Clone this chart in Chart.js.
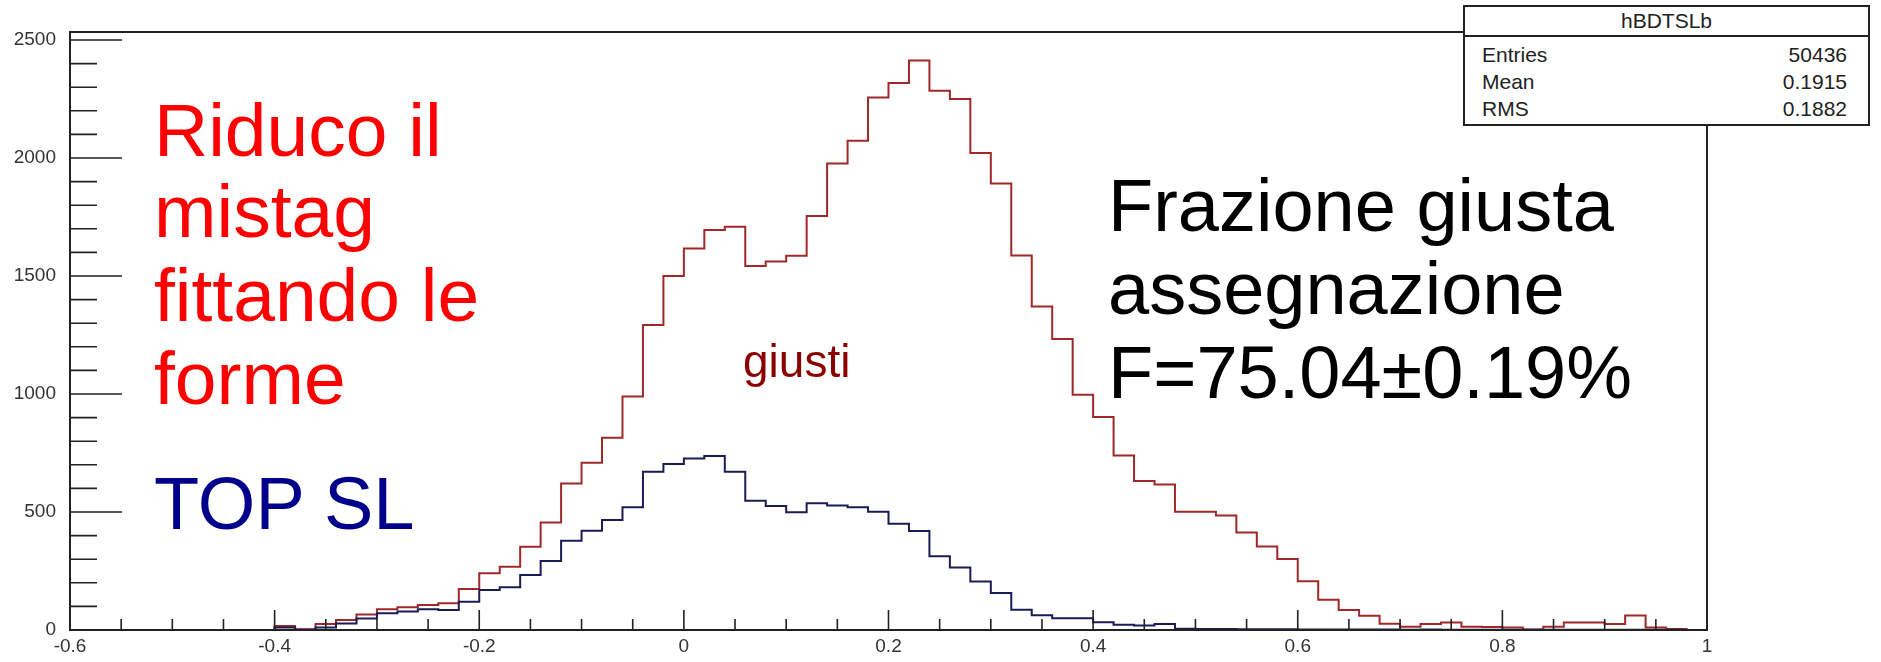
<!DOCTYPE html>
<html>
<head>
<meta charset="utf-8">
<script src="https://cdn.jsdelivr.net/npm/chart.js@4.4.1/dist/chart.umd.min.js"></script>
<style>
    html, body { margin: 0; padding: 0; background: #fff; }
    #wrap { position: relative; width: 1881px; height: 662px; overflow: hidden; font-family: "Liberation Sans", Arial, sans-serif; }
    #wrap canvas { position: absolute; left: 0; top: 0; }
    .note { position: absolute; white-space: nowrap; line-height: 1; }
    .red { color: #ff0000; font-size: 75px; left: 154px; }
    .blk { color: #000; font-size: 74px; left: 1108px; }
    #stats { position: absolute; left: 1463px; top: 5px; width: 403px; height: 117px; border: 2px solid #222; background: #fff; font-size: 21px; color: #222; }
    #stats .head { height: 28px; line-height: 28px; text-align: center; border-bottom: 2px solid #222; }
    #stats .row { position: absolute; left: 17px; right: 21px; height: 27px; line-height: 27px; }
    #stats .row span:last-child { float: right; }
</style>
</head>
<body>
<div id="wrap">
    <canvas id="chartBDT" width="1881" height="662"></canvas>

    <div class="note red" style="top: 93px;">Riduco il</div>
    <div class="note red" style="top: 174px;">mistag</div>
    <div class="note red" style="top: 258px;">fittando le</div>
    <div class="note red" style="top: 341px;">forme</div>
    <div class="note" style="top: 467px; left: 154px; font-size: 74px; color: #00008b;">TOP SL</div>
    <div class="note" style="top: 338px; left: 743px; font-size: 46px; color: #8b0000;">giusti</div>
    <div class="note blk" style="top: 169px;">Frazione giusta</div>
    <div class="note blk" style="top: 252px;">assegnazione</div>
    <div class="note blk" style="top: 336px;">F=75.04±0.19%</div>

    <div id="stats">
        <div class="head">hBDTSLb</div>
        <div class="row" style="top: 34px;"><span>Entries</span><span>50436</span></div>
        <div class="row" style="top: 61px;"><span>Mean</span><span>0.1915</span></div>
        <div class="row" style="top: 88px;"><span>RMS</span><span>0.1882</span></div>
    </div>
</div>

<script>
// histogram binning: 80 bins of 0.02 from -0.6 to 1
const BIN_LOW = -0.6;
const BIN_WIDTH = 0.02;

// total (red) - hBDTSLb
const totalCounts = [
    0, 0, 0, 0, 0, 0, 0, 0, 0, 0,
    17, 3, 25, 42, 66, 88, 96, 106, 113, 174,
    240, 268, 353, 456, 621, 709, 815, 989, 1292, 1500,
    1617, 1695, 1709, 1542, 1561, 1586, 1754, 1977, 2073, 2256,
    2318, 2413, 2285, 2250, 2021, 1892, 1587, 1371, 1233, 997,
    903, 739, 631, 617, 501, 501, 485, 413, 354, 301,
    207, 128, 85, 60, 26, 14, 25, 32, 14, 13,
    11, 2, 14, 32, 32, 25, 61, 11, 4, 0
];

// TOP SL component (blue)
const topSlCounts = [
    0, 0, 0, 0, 0, 0, 0, 0, 0, 0,
    11, 1, 11, 28, 49, 71, 78, 88, 85, 120,
    169, 181, 233, 292, 378, 421, 466, 520, 671, 703,
    727, 737, 671, 548, 525, 499, 537, 528, 520, 501,
    450, 420, 313, 265, 206, 157, 86, 63, 50, 50,
    33, 22, 19, 25, 5, 4, 4, 3, 3, 3,
    2, 2, 2, 2, 2, 1, 2, 1, 1, 1,
    1, 1, 1, 1, 1, 1, 1, 1, 1, 0
];

const X_TICKS = [-0.6, -0.4, -0.2, 0, 0.2, 0.4, 0.6, 0.8, 1];
const X_TICK_LABELS = ['-0.6', '-0.4', '-0.2', '0', '0.2', '0.4', '0.6', '0.8', '1'];
const Y_TICKS = [0, 500, 1000, 1500, 2000, 2500];
const Y_TICK_LABELS = ['0', '500', '1000', '1500', '2000', '2500'];
const Y_MAX = 2534;

function histPoints(counts) {
    const pts = counts.map(function (c, i) {
        return { x: BIN_LOW + i * BIN_WIDTH, y: c };
    });
    pts.push({ x: BIN_LOW + counts.length * BIN_WIDTH, y: counts[counts.length - 1] });
    return pts;
}

// ROOT style frame with inward ticks
const rootFrame = {
    id: 'rootFrame',
    afterDatasetsDraw(chart) {
        const { ctx, chartArea: a, scales: { x, y } } = chart;
        ctx.save();
        ctx.strokeStyle = '#222';
        ctx.lineWidth = 1.6;
        ctx.beginPath();
        for (let v = 0; v <= 2500; v += 100) {
            const py = y.getPixelForValue(v);
            const len = v % 500 === 0 ? 52 : 27;
            ctx.moveTo(a.left, py);
            ctx.lineTo(a.left + len, py);
        }
        for (let k = 0; k <= 32; k++) {
            const px = x.getPixelForValue(-0.6 + k * 0.05);
            const len = k % 4 === 0 ? 20 : 11;
            ctx.moveTo(px, a.bottom);
            ctx.lineTo(px, a.bottom - len);
        }
        ctx.stroke();
        ctx.lineWidth = 2;
        ctx.strokeRect(a.left, a.top, a.right - a.left, a.bottom - a.top);
        ctx.restore();
    }
};

const tickFont = { family: '"Liberation Sans", Arial, sans-serif', size: 19 };

new Chart(document.getElementById('chartBDT'), {
    type: 'line',
    data: {
        datasets: [{
            label: 'TOP SL',
            data: histPoints(topSlCounts),
            borderColor: '#1c1c55',
            borderWidth: 2,
            stepped: true,
            pointRadius: 0,
            fill: false,
        }, {
            label: 'hBDTSLb',
            data: histPoints(totalCounts),
            borderColor: '#a02828',
            borderWidth: 2,
            stepped: true,
            pointRadius: 0,
            fill: false,
        }],
    },
    options: {
        responsive: false,
        animation: false,
        devicePixelRatio: 1,
        layout: { padding: { top: 32, right: 174, left: 0, bottom: 0 } },
        plugins: { legend: { display: false }, tooltip: { enabled: false } },
        scales: {
            x: {
                type: 'linear',
                min: -0.6,
                max: 1,
                grid: { display: false, drawTicks: false },
                border: { display: false },
                afterBuildTicks: function (s) { s.ticks = X_TICKS.map(function (v) { return { value: v }; }); },
                afterFit: function (s) { s.height = 32; },
                ticks: {
                    autoSkip: false,
                    maxRotation: 0,
                    padding: 5,
                    color: '#333',
                    font: tickFont,
                    callback: function (v, i) { return X_TICK_LABELS[i]; },
                },
            },
            y: {
                min: 0,
                max: Y_MAX,
                grid: { display: false, drawTicks: false },
                border: { display: false },
                afterBuildTicks: function (s) { s.ticks = Y_TICKS.map(function (v) { return { value: v }; }); },
                afterFit: function (s) { s.width = 70; },
                ticks: {
                    autoSkip: false,
                    padding: 14,
                    color: '#333',
                    font: tickFont,
                    callback: function (v, i) { return Y_TICK_LABELS[i]; },
                },
            },
        },
    },
    plugins: [rootFrame],
});
</script>
</body>
</html>
